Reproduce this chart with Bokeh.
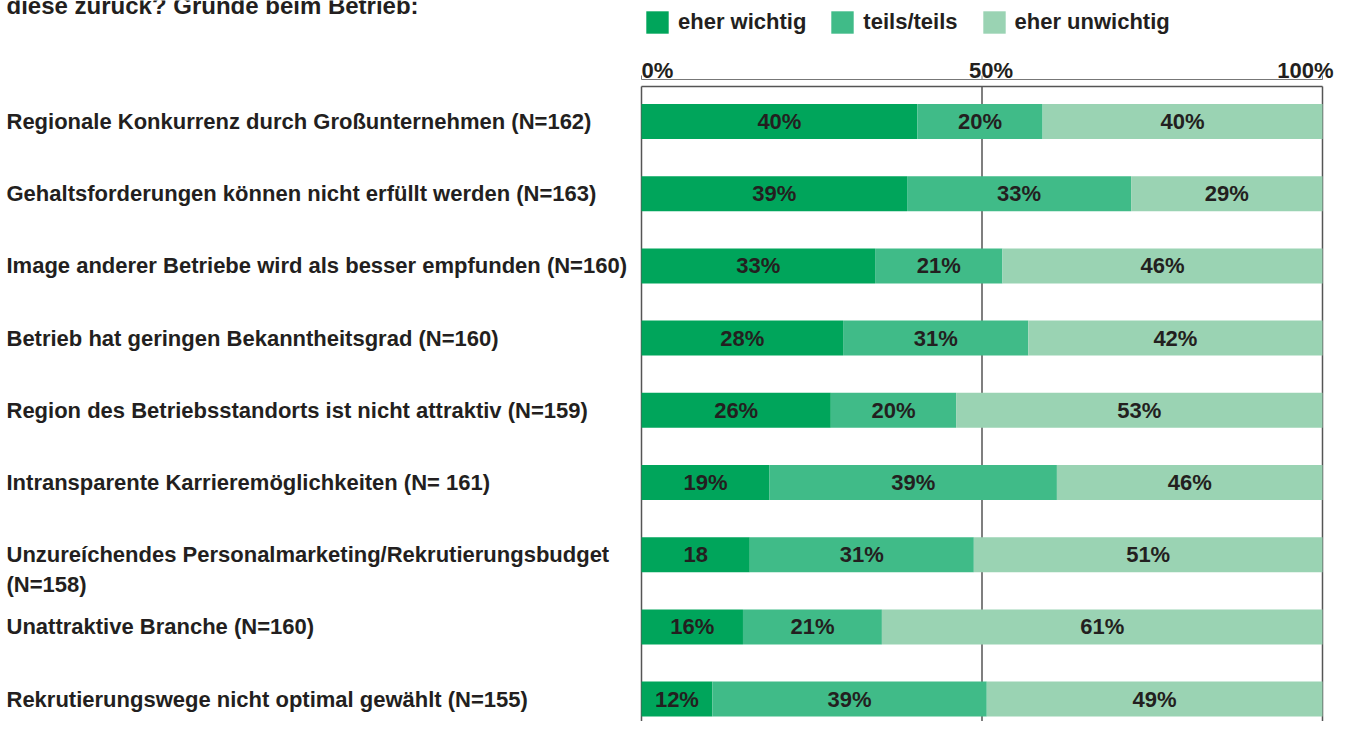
from bokeh.plotting import figure
from bokeh.models import Range1d, Legend, LegendItem, ColumnDataSource
from bokeh.core.properties import value
from bokeh.embed import file_html
from bokeh.resources import INLINE

# ---------------- data ----------------
title_text = "diese zurück? Gründe beim Betrieb:"
categories = [
    "Regionale Konkurrenz durch Großunternehmen (N=162)",
    "Gehaltsforderungen können nicht erfüllt werden (N=163)",
    "Image anderer Betriebe wird als besser empfunden (N=160)",
    "Betrieb hat geringen Bekanntheitsgrad (N=160)",
    "Region des Betriebsstandorts ist nicht attraktiv (N=159)",
    "Intransparente Karrieremöglichkeiten (N= 161)",
    "Unzureíchendes Personalmarketing/Rekrutierungsbudget\n(N=158)",
    "Unattraktive Branche (N=160)",
    "Rekrutierungswege nicht optimal gewählt (N=155)",
]
series_names = ["eher wichtig", "teils/teils", "eher unwichtig"]
# bar widths as drawn in the picture (percent)
wichtig = [40.5, 39.0, 34.3, 29.6, 27.8, 18.8, 15.9, 14.9, 10.4]
teils = [18.4, 32.9, 18.7, 27.2, 18.4, 42.2, 32.9, 20.4, 40.3]
unwichtig = [41.1, 28.1, 47.0, 43.2, 53.8, 39.0, 51.2, 64.7, 49.3]
# value labels printed in the bars
lab_wichtig = ["40%", "39%", "33%", "28%", "26%", "19%", "18", "16%", "12%"]
lab_teils = ["20%", "33%", "21%", "31%", "20%", "39%", "31%", "21%", "39%"]
lab_unwichtig = ["40%", "29%", "46%", "42%", "53%", "46%", "51%", "61%", "49%"]
ticks = [0, 50, 100]
tick_labels = ["0%", "50%", "100%"]

# ---------------- layout / style ----------------
W, H = 1340, 721
X0_PX, X100_PX = 641, 1322
SX = (X100_PX - X0_PX) / 100.0
ROW0_PX, ROW_STEP = 121.0, 72.2
BAR_PX = 35

def xv(px):
    return (px - X0_PX) / SX

def yv(py):
    return (py - ROW0_PX) / ROW_STEP

COLORS = ["#00A55B", "#40BB88", "#9AD3B3"]
TXT = "#231f20"
LINE = "#555555"
FONT = value("Liberation Sans")

p = figure(width=W, height=H, output_backend="svg", toolbar_location=None,
           x_range=Range1d(xv(0), xv(W)), y_range=Range1d(yv(H), yv(0)),
           x_axis_location=None, y_axis_location=None, min_border=0)
p.grid.visible = False
p.outline_line_color = None
p.background_fill_color = "white"
p.border_fill_color = "white"

n = len(categories)
rows = list(range(n))

# vertical reference lines + top frame line + axis line
frame_top = yv(86)
p.segment(x0=ticks, x1=ticks, y0=[frame_top] * 3, y1=[yv(H)] * 3,
          line_color=LINE, line_width=1.5)
p.segment(x0=[0], x1=[100], y0=[frame_top], y1=[frame_top], line_color=LINE, line_width=1.5)
axis_y = yv(79)
p.segment(x0=[0], x1=[100], y0=[axis_y], y1=[axis_y], line_color="#777777", line_width=1)
p.segment(x0=ticks, x1=ticks, y0=[yv(75)] * 3, y1=[axis_y] * 3, line_color="#777777", line_width=1)

# stacked bars
src = ColumnDataSource(dict(row=rows, w=wichtig, t=teils, u=unwichtig))
renderers = p.hbar_stack(["w", "t", "u"], y="row", height=BAR_PX / ROW_STEP,
                         color=COLORS, source=src, line_color=None)

# value labels centred in segments
starts = [0.0] * n
for vals, labs in ((wichtig, lab_wichtig), (teils, lab_teils), (unwichtig, lab_unwichtig)):
    centers = [s + v / 2.0 for s, v in zip(starts, vals)]
    p.text(x=centers, y=rows, text=labs, text_align="center", text_baseline="middle",
           text_font=FONT, text_font_style="bold", text_font_size="22px", text_color=TXT)
    starts = [s + v for s, v in zip(starts, vals)]

# category labels (left)
first_lines = [c.split("\n")[0] for c in categories]
p.text(x=xv(6), y=rows, text=first_lines, text_align="left", text_baseline="middle",
       text_font=FONT, text_font_style="bold", text_font_size="22px", text_color=TXT)
extra_rows = [r for r, c in zip(rows, categories) if "\n" in c]
extra_text = [c.split("\n", 1)[1] for c in categories if "\n" in c]
p.text(x=xv(6), y=extra_rows, text=extra_text, text_align="left", text_baseline="middle",
       text_font=FONT, text_font_style="bold", text_font_size="22px", text_color=TXT,
       y_offset=30)

# tick labels
aligns = ["left", "center", "right"]
offs = [0, 9, 11]
for t, lab, a, o in zip(ticks, tick_labels, aligns, offs):
    p.text(x=[t], y=[yv(70)], text=[lab], text_align=a, text_baseline="alphabetic",
           x_offset=o, text_font=FONT, text_font_style="bold", text_font_size="22px",
           text_color=TXT)

# title (cut off at top, as in the source)
p.text(x=[xv(6)], y=[yv(5)], text=[title_text], text_align="left", text_baseline="alphabetic",
       text_font=FONT, text_font_style="bold", text_font_size="24px", text_color=TXT)

# legend
legend = Legend(items=[LegendItem(label=nm, renderers=[r]) for nm, r in zip(series_names, renderers)],
                orientation="horizontal", location=(643, H - 8 - 28),
                glyph_width=28, glyph_height=28, label_standoff=7, spacing=22,
                padding=0, margin=0, border_line_color=None, background_fill_alpha=0,
                label_text_font="Liberation Sans", label_text_font_style="bold",
                label_text_font_size="22px", label_text_color=TXT, label_height=28)
p.add_layout(legend)

open("out.html", "w").write(file_html(p, INLINE))
